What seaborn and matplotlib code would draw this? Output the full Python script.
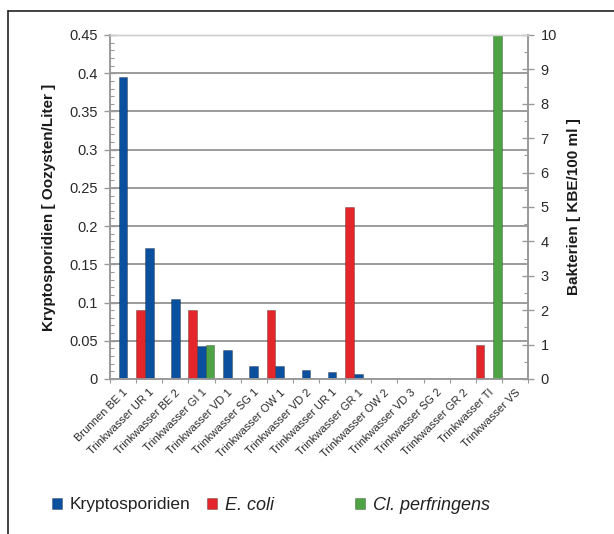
import numpy as np
import pandas as pd
import seaborn as sns
import matplotlib.pyplot as plt
from matplotlib.patches import Patch
from matplotlib.lines import Line2D
from matplotlib.ticker import MultipleLocator
from matplotlib.transforms import ScaledTranslation

# Data
sites = ['Brunnen BE 1', 'Trinkwasser UR 1', 'Trinkwasser BE 2', 'Trinkwasser GI 1',
         'Trinkwasser VD 1', 'Trinkwasser SG 1', 'Trinkwasser OW 1', 'Trinkwasser VD 2',
         'Trinkwasser UR 1', 'Trinkwasser GR 1', 'Trinkwasser OW 2', 'Trinkwasser VD 3',
         'Trinkwasser SG 2', 'Trinkwasser GR 2', 'Trinkwasser TI', 'Trinkwasser VS']
krypto = [0.395, 0.172, 0.104, 0.043, 0.038, 0.017, 0.017, 0.012,
          0.009, 0.007, 0, 0, 0, 0, 0, 0]
ecoli = [0, 2, 0, 2, 0, 0, 2, 0, 0, 5, 0, 0, 0, 0, 1, 0]
perfringens = [0, 0, 0, 1, 0, 0, 0, 0, 0, 0, 0, 0, 0, 0, 10, 0]

series = ['E. coli', 'Kryptosporidien', 'Cl. perfringens']
colors = {'Kryptosporidien': '#0b4f9f', 'E. coli': '#e3262a', 'Cl. perfringens': '#4ea444'}

pos = list(range(len(sites)))
df_k = pd.DataFrame({'pos': pos, 'value': krypto, 'serie': 'Kryptosporidien'})
df_b = pd.concat([
    pd.DataFrame({'pos': pos, 'value': ecoli, 'serie': 'E. coli'}),
    pd.DataFrame({'pos': pos, 'value': perfringens, 'serie': 'Cl. perfringens'}),
])
df_k = df_k[df_k['value'] > 0]
df_b = df_b[df_b['value'] > 0]

sns.set_style('white')
plt.rcParams['font.family'] = ['Liberation Sans', 'DejaVu Sans']

fig = plt.figure(figsize=(6.14, 5.34), dpi=100)
ax = fig.add_axes([110 / 614, 1 - 379 / 534, 418 / 614, 344 / 534])
ax2 = ax.twinx()

bar_kw = dict(x='pos', y='value', hue='serie', hue_order=series, palette=colors,
              order=pos, width=1.0, dodge=True, legend=False, errorbar=None,
              saturation=1, edgecolor=(0, 0, 0, 0.3), linewidth=0.6)
sns.barplot(data=df_k, ax=ax, **bar_kw)
sns.barplot(data=df_b, ax=ax2, **bar_kw)

grey = '#9a9a9a'
txt = '#2a2a2a'

# left axis
ax.set_ylim(0, 0.45)
ax.set_yticks(np.arange(0, 0.451, 0.05))
ax.set_yticklabels(['0', '0.05', '0.1', '0.15', '0.2', '0.25', '0.3', '0.35', '0.4', '0.45'])
ax.yaxis.set_minor_locator(MultipleLocator(0.01))
ax.grid(axis='y', color='#9c9c9c', linewidth=1.4)
ax.set_axisbelow(True)
ax.tick_params(axis='y', which='major', direction='inout', length=8, width=1,
               color=grey, labelsize=10.5, labelcolor=txt, pad=5, left=True)
ax.tick_params(axis='y', which='minor', direction='in', length=3, width=0.8,
               color=grey, left=True)
ax.set_ylabel('Kryptosporidien [ Oozysten/Liter ]', fontsize=11, fontweight='bold',
              color='#1a1a1a', labelpad=9)

# right axis
ax2.set_ylim(0, 10)
ax2.set_yticks(range(0, 11))
ax2.yaxis.set_minor_locator(MultipleLocator(0.5))
ax2.tick_params(axis='y', which='major', direction='inout', length=8, width=1,
                color=grey, labelsize=10.5, labelcolor=txt, pad=5, right=True)
ax2.tick_params(axis='y', which='minor', direction='in', length=3, width=0.8,
                color=grey, right=True)
ax2.set_ylabel('Bakterien [ KBE/100 ml ]', fontsize=11, fontweight='bold',
               color='#1a1a1a', labelpad=7)
ax2.grid(False)

# x axis
for a in (ax, ax2):
    a.set_xlim(-0.5, len(sites) - 0.5)
    a.set_xlabel('')
ax.set_xticks(pos)
ax.set_xticklabels(sites, rotation=45, ha='right', rotation_mode='anchor',
                   fontsize=8, color=txt)
shift = ScaledTranslation(-5 / 100, -3 / 100, fig.dpi_scale_trans)
for lab in ax.get_xticklabels():
    lab.set_transform(lab.get_transform() + shift)
ax.tick_params(axis='x', which='major', length=0, pad=6)
ax.set_xticks(np.arange(-0.5, len(sites), 1), minor=True)
ax.tick_params(axis='x', which='minor', direction='out', length=3, width=0.8,
               color=grey, bottom=True)
ax2.tick_params(axis='x', which='both', length=0)

for a in (ax, ax2):
    for side in ('left', 'right', 'bottom'):
        a.spines[side].set_color(grey)
        a.spines[side].set_linewidth(1.2)
    a.spines['top'].set_color('#d0d0d0')
    a.spines['top'].set_linewidth(1.0)

# legend: three fixed-width entries like the original
legend_names = ['Kryptosporidien', 'E. coli', 'Cl. perfringens']
legend_x = [52, 207, 355]
for name, xpix in zip(legend_names, legend_x):
    italic = name != 'Kryptosporidien'
    leg = fig.legend([Patch(facecolor=colors[name], edgecolor=(0, 0, 0, 0.3), linewidth=0.6)],
                     [name], loc='center left', bbox_to_anchor=(xpix / 614, 1 - 505 / 534),
                     frameon=False, fontsize=13 if italic else 12.5,
                     handlelength=0.55, handleheight=0.55, handletextpad=0.45,
                     borderaxespad=0, borderpad=0)
    t = leg.get_texts()[0]
    t.set_color('#222222')
    if italic:
        t.set_fontstyle('italic')

# frame around the figure
fig.add_artist(Line2D([8 / 614, 8 / 614], [0, 1 - 11 / 534], color='#222222',
                      linewidth=1.2, transform=fig.transFigure))
fig.add_artist(Line2D([8 / 614, 1], [1 - 11 / 534, 1 - 11 / 534], color='#222222',
                      linewidth=1.2, transform=fig.transFigure))

fig.savefig('out.png', dpi=100)
